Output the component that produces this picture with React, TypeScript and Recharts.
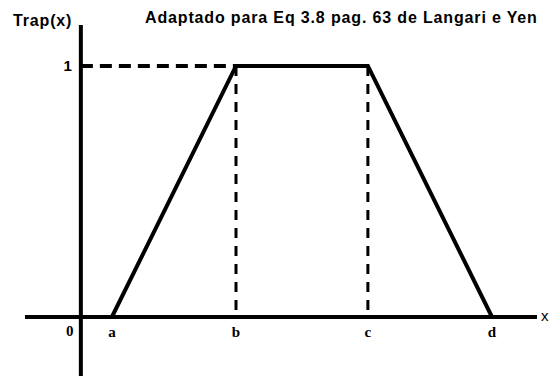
import React from 'react';
import {
  LineChart,
  Line,
  XAxis,
  YAxis,
  ReferenceLine,
  ReferenceDot,
  Customized,
} from 'recharts';

// breakpoints of the trapezoidal membership function
const pointNames = ['a', 'b', 'c', 'd'];
const pointX = [1, 5, 9.25, 13.25];
const membership = [0, 1, 1, 0];

const xDomain: [number, number] = [-1.8, 14.7];
const yDomain: [number, number] = [-0.235, 1.163];

const title = 'Adaptado para Eq 3.8 pag. 63 de Langari e Yen';
const yName = 'Trap(x)';
const xName = 'x';

const data = pointX.map((x, i) => ({ x, mu: membership[i], name: pointNames[i] }));

const sans = 'Liberation Sans, Arial, sans-serif';
const serif = 'Liberation Serif, Times New Roman, serif';

const textAt = (text: string, dx: number, dy: number, anchor: string, font: string, size: number, weight = 'bold') =>
  ({ viewBox }: any) => (
    <text
      x={viewBox.x + viewBox.width / 2 + dx}
      y={viewBox.y + viewBox.height / 2 + dy}
      textAnchor={anchor}
      fontFamily={font}
      fontSize={size}
      fontWeight={weight}
      fill="#000"
    >
      {text}
    </text>
  );

const Headings = () => (
  <g>
    <text x={13} y={26} fontFamily={sans} fontSize={16} fontWeight="bold" letterSpacing={0.85} fill="#000">
      {yName}
    </text>
    <text x={145} y={23} fontFamily={sans} fontSize={16} fontWeight="bold" letterSpacing={0.85} fill="#000">
      {title}
    </text>
  </g>
);

export default function App() {
  return (
    <div style={{ position: 'absolute', left: 0, top: 0, width: 553, height: 376, background: '#fff' }}>
      <LineChart width={553} height={376} data={data} margin={{ top: 25, right: 16, bottom: 0, left: 25 }}>
        <XAxis type="number" dataKey="x" domain={xDomain} allowDataOverflow hide />
        <YAxis type="number" domain={yDomain} allowDataOverflow hide />

        {/* axes through the origin */}
        <ReferenceLine y={0} stroke="#000" strokeWidth={4} />
        <ReferenceLine x={0} stroke="#000" strokeWidth={4} />

        {/* guides to the plateau */}
        <ReferenceLine
          segment={[{ x: 0, y: 1 }, { x: pointX[1], y: 1 }]}
          stroke="#000"
          strokeWidth={4}
          strokeDasharray="12 7"
        />
        <ReferenceLine
          segment={[{ x: pointX[1], y: 1 }, { x: pointX[1], y: 0 }]}
          stroke="#000"
          strokeWidth={3}
          strokeDasharray="10 8"
        />
        <ReferenceLine
          segment={[{ x: pointX[2], y: 1 }, { x: pointX[2], y: 0 }]}
          stroke="#000"
          strokeWidth={3}
          strokeDasharray="10 8"
        />

        <Line
          type="linear"
          dataKey="mu"
          stroke="#000"
          strokeWidth={4}
          strokeLinejoin="miter"
          dot={false}
          activeDot={false}
          isAnimationActive={false}
        />

        {pointX.map((x, i) => (
          <ReferenceDot
            key={pointNames[i]}
            x={x}
            y={0}
            r={0}
            fill="none"
            stroke="none"
            label={{ content: textAt(pointNames[i], 0, 20, 'middle', serif, 15) }}
          />
        ))}
        <ReferenceDot x={0} y={0} r={0} fill="none" stroke="none"
          label={{ content: textAt('0', -11, 19, 'middle', serif, 15) }} />
        <ReferenceDot x={0} y={1} r={0} fill="none" stroke="none"
          label={{ content: textAt('1', -9, 5, 'end', sans, 15) }} />
        <ReferenceDot x={xDomain[1]} y={0} r={0} fill="none" stroke="none"
          label={{ content: textAt(xName, 4, 4, 'start', sans, 15, 'normal') }} />

        <Customized component={Headings} />
      </LineChart>
    </div>
  );
}
